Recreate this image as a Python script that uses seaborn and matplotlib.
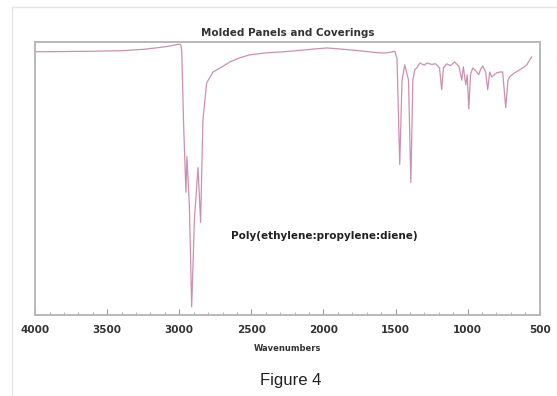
import numpy as np
import pandas as pd
import matplotlib
matplotlib.use("Agg")
import matplotlib.pyplot as plt
import seaborn as sns
from matplotlib.ticker import MultipleLocator

# IR spectrum (wavenumber, relative transmittance)
wavenumbers = [4000, 3800, 3600, 3400, 3250, 3150, 3080, 3030, 3000, 2990, 2983,
               2970, 2954, 2947, 2930, 2914, 2895, 2870, 2852, 2836, 2810, 2766,
               2700, 2649, 2580, 2510, 2400, 2281, 2150, 2050, 1976, 1900, 1817,
               1700, 1609, 1560, 1520, 1505, 1490, 1471, 1455, 1436, 1410, 1394,
               1380, 1367, 1353, 1332, 1300, 1283, 1250, 1221, 1195, 1180, 1168,
               1145, 1120, 1090, 1060, 1041, 1030, 1013, 1003, 992, 980, 965,
               945, 923, 910, 895, 875, 861, 847, 833, 815, 798, 775, 757, 736,
               720, 708, 680, 639, 610, 590, 570, 556]
transmittance = [96.4, 96.5, 96.6, 96.8, 97.3, 97.9, 98.4, 98.9, 99.2, 99.0, 97.0,
                 70.0, 44.9, 58.0, 40.0, 2.9, 35.0, 54.0, 33.9, 71.5, 85.0, 89.0,
                 91.0, 92.7, 94.2, 95.3, 96.0, 96.4, 97.0, 97.5, 97.8, 97.5, 97.1,
                 96.5, 96.0, 96.0, 96.4, 96.6, 94.0, 55.1, 86.0, 91.6, 86.0, 48.5,
                 86.0, 89.8, 90.5, 92.3, 91.5, 92.3, 91.8, 92.0, 90.5, 82.5, 90.5,
                 92.0, 91.3, 92.7, 91.0, 86.0, 90.9, 84.3, 88.0, 75.5, 88.0, 90.5,
                 89.5, 88.0, 90.0, 91.2, 89.0, 82.5, 89.0, 87.2, 88.0, 88.7, 89.0,
                 89.0, 75.9, 86.0, 87.2, 88.5, 89.8, 90.8, 91.6, 93.4, 94.5]
x_ticks = [4000, 3500, 3000, 2500, 2000, 1500, 1000, 500]

df = pd.DataFrame({"wn": wavenumbers, "t": transmittance})

fig = plt.figure(figsize=(5.57, 3.96), dpi=100)
ax = fig.add_axes([0.063, 0.205, 0.906, 0.689])

sns.lineplot(data=df, x="wn", y="t", ax=ax, color="#cc90b0", linewidth=0.9,
             estimator=None, sort=False)

ax.set_xlim(4000, 500)
ax.set_ylim(0, 100)
ax.set_xticks(x_ticks)
ax.set_xticklabels([str(v) for v in x_ticks], fontsize=7.5, fontweight="bold",
                   color="#333333")
ax.xaxis.set_minor_locator(MultipleLocator(100))
ax.tick_params(axis="x", which="major", direction="in", length=4, color="#999999", pad=7)
ax.tick_params(axis="x", which="minor", direction="in", length=2, color="#aaaaaa")
ax.set_yticks([])
ax.set_ylabel("")
ax.set_xlabel("Wavenumbers", fontsize=6, fontweight="bold", color="#333333", labelpad=7)
for s in ax.spines.values():
    s.set_color("#b8b8b8")
    s.set_linewidth(1.4)

ax.set_title("Molded Panels and Coverings", fontsize=7.5, fontweight="bold",
             color="#333333", pad=4)
ax.text(1997, 28.8, "Poly(ethylene:propylene:diene)", fontsize=7.5, fontweight="bold",
        color="#222222", ha="center", va="center")

fig.text(0.522, 0.038, "Figure 4", fontsize=12, family="Liberation Sans",
         color="#222222", ha="center", va="center")

# faint frame of the original screenshot
fig.add_artist(plt.Line2D([12 / 557, 12 / 557], [0, 1 - 7 / 396], transform=fig.transFigure,
                          color="#e6e6e6", linewidth=1))
fig.add_artist(plt.Line2D([12 / 557, 1], [1 - 7 / 396, 1 - 7 / 396], transform=fig.transFigure,
                          color="#e6e6e6", linewidth=1))

fig.savefig("out.png", dpi=100)
